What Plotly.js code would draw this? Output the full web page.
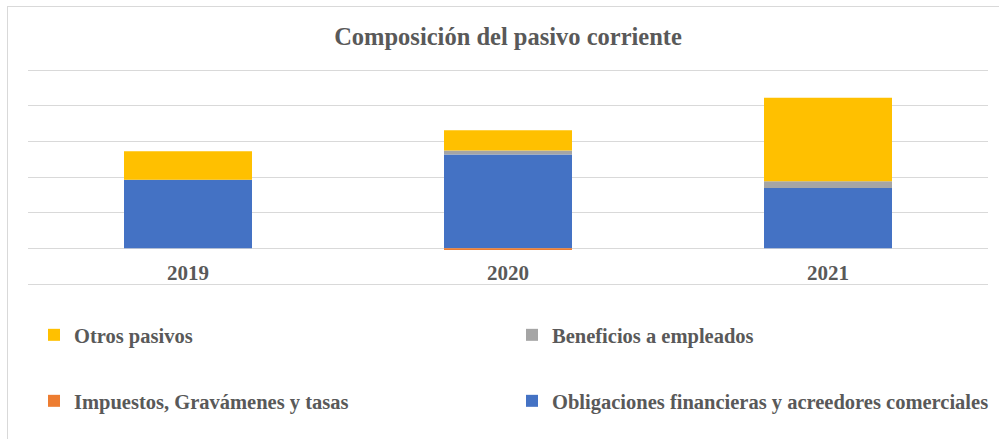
<!DOCTYPE html>
<html>
<head>
<meta charset="utf-8">
<script src="https://cdn.plot.ly/plotly-3.0.1.min.js"></script>
<style>
  html, body { margin: 0; padding: 0; background: #fff; }
  #chart { width: 999px; height: 439px; position: absolute; left: 0; top: 0; }
  #frame { position: absolute; left: 7px; top: 6px; width: 1000px; height: 440px;
           border-left: 1px solid #d9d9d9; border-top: 1px solid #d9d9d9; pointer-events: none; }
</style>
</head>
<body>
<div id="chart"></div>
<div id="frame"></div>
<script>
const years = ['2019', '2020', '2021'];
const obligaciones = [1.92, 2.63, 1.69];
const impuestos = [0, -0.05, 0];
const beneficios = [0, 0.11, 0.19];
const otros = [0.80, 0.57, 2.34];

const names = {
  obligaciones: 'Obligaciones financieras y acreedores comerciales',
  impuestos: 'Impuestos, Gravámenes y tasas',
  beneficios: 'Beneficios a empleados',
  otros: 'Otros pasivos'
};
const colors = {
  obligaciones: '#4472c4',
  impuestos: '#ed7d31',
  beneficios: '#a5a5a5',
  otros: '#ffc000'
};

const serif = 'Liberation Serif';
const textColor = '#595959';

function bar(key, values, legend) {
  return {
    type: 'bar', x: years, y: values, name: names[key],
    marker: { color: colors[key], line: { width: 0 } },
    legend: legend, hoverinfo: 'x+y+name'
  };
}

const data = [
  bar('obligaciones', obligaciones, 'legend4'),
  bar('impuestos', impuestos, 'legend3'),
  bar('beneficios', beneficios, 'legend2'),
  bar('otros', otros, 'legend')
];

function legendAt(xpx, ypx) {
  return {
    orientation: 'h', xref: 'container', yref: 'container',
    x: xpx / 999, xanchor: 'left', y: 1 - ypx / 439, yanchor: 'middle',
    font: { family: serif, size: 20.5, color: textColor, weight: 700 },
    bgcolor: 'rgba(0,0,0,0)', borderwidth: 0
  };
}

// axis range padded slightly so the -1 and 5 gridlines are drawn inside the plot area
const yMin = -1.056, yMax = 5.056;

const layout = {
  width: 999, height: 439,
  margin: { l: 28, r: 11, t: 68, b: 153 },
  paper_bgcolor: '#ffffff', plot_bgcolor: '#ffffff',
  barmode: 'relative', bargap: 0.6,
  font: { family: serif },
  title: {
    text: 'Composición del pasivo corriente',
    font: { family: serif, size: 24.5, color: textColor, weight: 700 },
    xref: 'paper', x: 0.5, xanchor: 'center',
    yref: 'container', y: 1 - 36 / 439, yanchor: 'middle'
  },
  xaxis: {
    type: 'category', anchor: 'free', position: (0 - yMin) / (yMax - yMin),
    showgrid: false, showline: false, zeroline: false, ticks: '',
    ticklabelstandoff: 10,
    tickfont: { family: serif, size: 21, color: textColor, weight: 700 }
  },
  yaxis: {
    range: [yMin, yMax], dtick: 1, tick0: 0, showticklabels: false,
    showgrid: true, gridcolor: '#d9d9d9', gridwidth: 1,
    zeroline: true, zerolinecolor: '#d9d9d9', zerolinewidth: 1, showline: false, ticks: ''
  },
  legend: legendAt(34, 335),
  legend2: legendAt(512, 335),
  legend3: legendAt(34, 401),
  legend4: legendAt(512, 401),
  showlegend: true
};

Plotly.newPlot('chart', data, layout, { displayModeBar: false, staticPlot: true });
</script>
</body>
</html>
